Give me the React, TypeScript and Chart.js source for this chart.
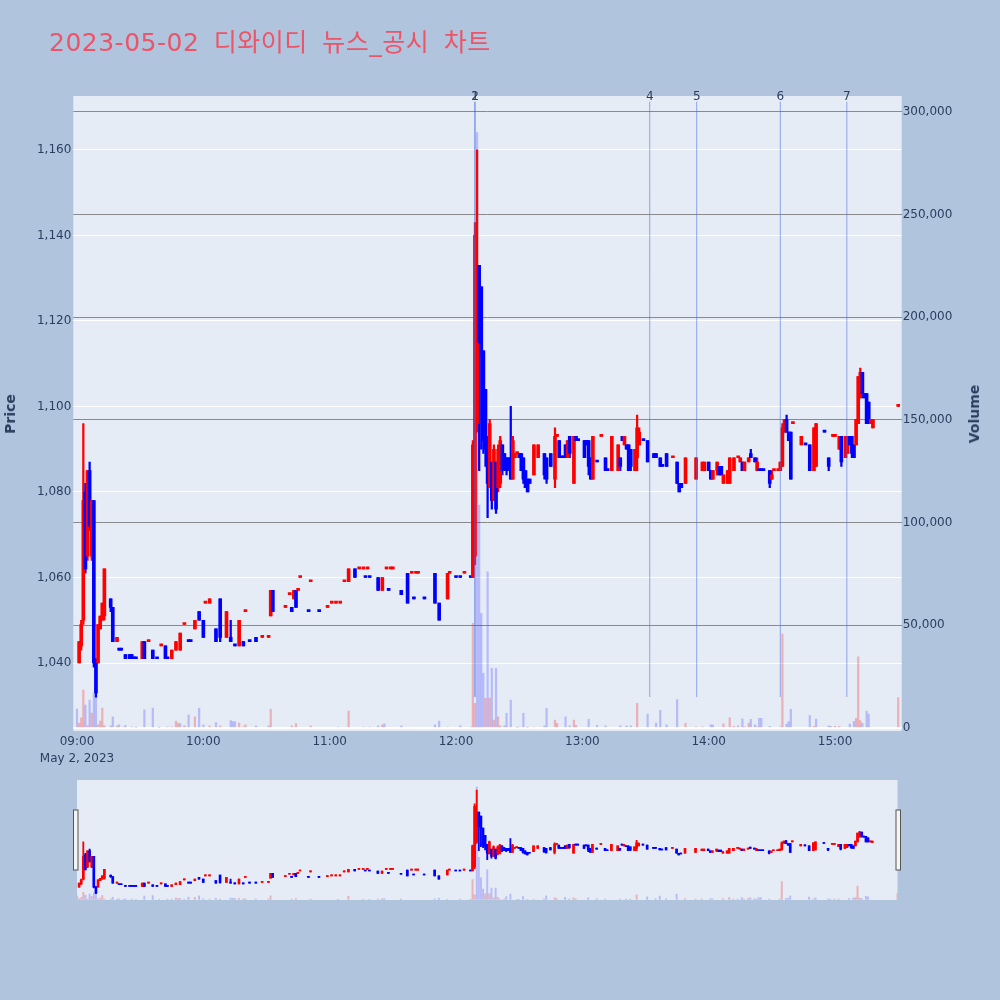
import React, { useEffect, useRef } from 'react';
import { Chart, registerables } from 'chart.js';

Chart.register(...registerables);

// ---------- candles (minute offset from 09:00, open, high, low, close) ----------
const candleMin = [
  1, 2, 3, 4, 5, 6, 7, 8, 9, 10, 11, 12, 13,
  16, 17, 19, 20, 21, 23, 25, 26, 27, 28, 31, 32, 34, 36, 38, 40, 42, 43, 45, 47, 49, 51, 53, 54, 56,
  58, 60, 61, 63, 66, 68, 71, 73, 75, 77, 79, 80, 82, 85, 88, 91, 92, 93, 99, 101, 102, 103, 104, 105, 106,
  110, 111, 115, 119, 121, 123, 125, 127, 129, 132, 134, 136, 137, 138, 139, 143, 145, 147, 148, 149, 150, 154, 157, 159, 160, 161, 162, 165, 170, 172, 176, 177, 180, 182, 184, 187,
  188, 189, 190, 191, 192, 193, 194, 195, 196, 197, 198, 199, 200, 201, 202, 203, 204, 205, 206, 207, 208, 209, 210, 211, 212, 213, 214, 215, 217, 219,
  222, 223, 225, 227, 228, 229, 230, 231, 232, 233, 234, 236, 237, 238, 241, 242, 243, 244, 245, 247, 249, 251, 252, 254, 257, 258, 259, 260, 261, 262, 263, 265, 266, 267,
  269, 271, 274, 275, 277, 278, 280, 283, 285, 286, 287, 289, 294, 297, 298, 300, 301, 302, 304, 305, 306, 307, 309, 310, 312, 314, 315, 316, 317, 319, 320, 322, 323, 324, 325, 326, 329, 330, 331, 333, 334, 335, 336, 337, 338, 339, 340,
  344, 346, 348, 350, 351, 355, 357, 359, 360, 362, 363, 365, 366, 367, 368, 369, 370, 371, 372, 373, 374, 375, 376, 377, 378, 390,
];
const candleOpen = [
  1040, 1044, 1050, 1080, 1065, 1085, 1065, 1078, 1041, 1040, 1048, 1050, 1051,
  1055, 1053, 1045, 1043, 1043, 1042, 1042, 1042, 1041, 1041, 1041, 1045, 1045, 1043, 1041, 1044, 1044, 1041, 1041, 1043, 1043, 1049, 1045, 1045, 1048,
  1052, 1050, 1054, 1054, 1048, 1055, 1046, 1046, 1044, 1044, 1045, 1052, 1045, 1046, 1046, 1046, 1051, 1057, 1053, 1056, 1053, 1055, 1057, 1057, 1060,
  1052, 1059, 1052, 1053, 1054, 1054, 1054, 1059, 1059, 1062, 1062, 1062, 1060, 1062, 1060, 1060, 1057, 1062, 1057, 1062, 1062, 1057, 1061, 1061, 1055, 1061, 1061, 1055, 1061, 1054, 1055, 1061, 1060, 1060, 1061, 1060,
  1060, 1065, 1096, 1133, 1128, 1113, 1104, 1093, 1081, 1087, 1078, 1087, 1081, 1082, 1091, 1089, 1088, 1088, 1088, 1083, 1088, 1089, 1089, 1089, 1088, 1085, 1083, 1083, 1084, 1088,
  1089, 1088, 1089, 1083, 1093, 1092, 1088, 1088, 1091, 1088, 1093, 1082, 1093, 1092, 1092, 1092, 1092, 1088, 1083, 1087, 1093, 1088, 1085, 1085, 1085, 1088, 1093, 1091, 1091, 1091, 1090, 1085, 1088, 1091,
  1092, 1092, 1089, 1089, 1088, 1086, 1089, 1088, 1087, 1082, 1082, 1082, 1083, 1085, 1085, 1087, 1085, 1083, 1085, 1086, 1086, 1082, 1082, 1082, 1085, 1088, 1087, 1087, 1085, 1087, 1089, 1088, 1085, 1085, 1085, 1085, 1085, 1083, 1085, 1085, 1085, 1086, 1094, 1097, 1094, 1094, 1096,
  1091, 1091, 1091, 1085, 1086, 1094, 1088, 1093, 1093, 1090, 1093, 1088, 1089, 1093, 1093, 1091, 1091, 1096, 1102, 1108, 1103, 1103, 1101, 1096, 1095, 1100,
];
const candleHigh = [
  1045, 1050, 1096, 1082, 1085, 1087, 1078, 1078, 1041, 1049, 1051, 1054, 1062,
  1055, 1053, 1046, 1043, 1043, 1042, 1042, 1042, 1041, 1041, 1045, 1045, 1045, 1043, 1041, 1044, 1044, 1041, 1043, 1045, 1047, 1049, 1045, 1045, 1050,
  1052, 1050, 1054, 1055, 1048, 1055, 1052, 1050, 1044, 1050, 1045, 1052, 1045, 1046, 1046, 1046, 1057, 1057, 1053, 1056, 1053, 1057, 1057, 1057, 1060,
  1052, 1059, 1052, 1053, 1054, 1054, 1054, 1059, 1062, 1062, 1062, 1062, 1060, 1062, 1060, 1060, 1060, 1062, 1057, 1062, 1062, 1057, 1061, 1061, 1055, 1061, 1061, 1055, 1061, 1054, 1061, 1061, 1060, 1060, 1061, 1060,
  1092, 1143, 1160, 1133, 1128, 1113, 1104, 1093, 1097, 1087, 1091, 1087, 1091, 1093, 1091, 1089, 1088, 1088, 1100, 1093, 1089, 1089, 1089, 1089, 1088, 1085, 1083, 1083, 1091, 1091,
  1089, 1088, 1089, 1095, 1093, 1092, 1088, 1088, 1091, 1092, 1093, 1093, 1093, 1092, 1092, 1092, 1092, 1088, 1093, 1087, 1093, 1088, 1085, 1093, 1091, 1088, 1093, 1093, 1091, 1091, 1090, 1090, 1098, 1095,
  1092, 1092, 1089, 1089, 1088, 1086, 1089, 1088, 1087, 1082, 1082, 1088, 1088, 1087, 1087, 1087, 1085, 1085, 1087, 1086, 1086, 1084, 1085, 1088, 1088, 1088, 1088, 1087, 1087, 1088, 1090, 1088, 1088, 1085, 1085, 1085, 1085, 1085, 1085, 1085, 1087, 1096, 1097, 1098, 1094, 1094, 1096,
  1093, 1091, 1091, 1095, 1096, 1094, 1088, 1093, 1093, 1093, 1093, 1093, 1093, 1093, 1093, 1091, 1097, 1107, 1109, 1108, 1103, 1103, 1101, 1097, 1097, 1100,
];
const candleLow = [
  1040, 1043, 1049, 1061, 1064, 1071, 1064, 1039, 1032, 1040, 1048, 1050, 1050,
  1052, 1045, 1045, 1043, 1043, 1041, 1041, 1041, 1041, 1041, 1041, 1041, 1045, 1041, 1041, 1044, 1041, 1041, 1041, 1043, 1043, 1049, 1045, 1045, 1048,
  1050, 1046, 1054, 1054, 1045, 1045, 1046, 1045, 1044, 1044, 1044, 1052, 1045, 1045, 1046, 1046, 1051, 1052, 1053, 1056, 1052, 1055, 1053, 1057, 1060,
  1052, 1059, 1052, 1053, 1054, 1054, 1054, 1059, 1059, 1060, 1062, 1062, 1060, 1062, 1060, 1057, 1057, 1062, 1057, 1062, 1062, 1056, 1054, 1061, 1055, 1061, 1061, 1055, 1054, 1050, 1055, 1061, 1060, 1060, 1061, 1060,
  1060, 1063, 1094, 1085, 1090, 1089, 1086, 1074, 1081, 1076, 1078, 1075, 1080, 1081, 1084, 1085, 1084, 1085, 1083, 1083, 1088, 1089, 1088, 1085, 1082, 1081, 1080, 1082, 1084, 1088,
  1083, 1082, 1086, 1081, 1093, 1088, 1088, 1088, 1088, 1088, 1088, 1082, 1092, 1092, 1088, 1091, 1084, 1083, 1083, 1087, 1093, 1085, 1085, 1085, 1085, 1085, 1092, 1091, 1090, 1085, 1085, 1085, 1085, 1091,
  1092, 1087, 1088, 1088, 1086, 1086, 1086, 1088, 1082, 1080, 1081, 1082, 1083, 1085, 1085, 1085, 1083, 1083, 1084, 1084, 1084, 1082, 1082, 1082, 1085, 1088, 1087, 1085, 1085, 1087, 1088, 1087, 1085, 1085, 1085, 1085, 1081, 1083, 1085, 1085, 1085, 1086, 1094, 1094, 1092, 1083, 1096,
  1091, 1091, 1085, 1085, 1086, 1094, 1085, 1093, 1093, 1090, 1086, 1088, 1089, 1091, 1088, 1088, 1091, 1096, 1102, 1102, 1102, 1096, 1096, 1096, 1095, 1100,
];
const candleClose = [
  1045, 1049, 1078, 1062, 1085, 1072, 1078, 1040, 1033, 1049, 1051, 1054, 1062,
  1053, 1045, 1046, 1043, 1043, 1041, 1041, 1041, 1041, 1041, 1045, 1041, 1045, 1041, 1041, 1044, 1041, 1041, 1043, 1045, 1047, 1049, 1045, 1045, 1050,
  1050, 1046, 1054, 1055, 1045, 1046, 1052, 1045, 1044, 1050, 1044, 1052, 1045, 1045, 1046, 1046, 1057, 1052, 1053, 1056, 1052, 1057, 1053, 1057, 1060,
  1052, 1059, 1052, 1053, 1054, 1054, 1054, 1059, 1062, 1060, 1062, 1062, 1060, 1062, 1060, 1057, 1060, 1062, 1057, 1062, 1062, 1056, 1054, 1061, 1055, 1061, 1061, 1055, 1054, 1050, 1061, 1061, 1060, 1060, 1061, 1060,
  1091, 1140, 1130, 1115, 1112, 1092, 1090, 1082, 1096, 1078, 1090, 1076, 1090, 1092, 1085, 1086, 1085, 1085, 1083, 1092, 1089, 1089, 1088, 1085, 1083, 1081, 1080, 1082, 1091, 1091,
  1084, 1083, 1086, 1093, 1093, 1088, 1088, 1088, 1088, 1092, 1089, 1093, 1092, 1092, 1088, 1091, 1086, 1083, 1093, 1087, 1093, 1085, 1085, 1093, 1091, 1086, 1092, 1093, 1090, 1085, 1086, 1090, 1095, 1094,
  1092, 1087, 1088, 1088, 1086, 1086, 1086, 1088, 1082, 1080, 1081, 1088, 1088, 1087, 1087, 1085, 1083, 1085, 1087, 1084, 1084, 1084, 1085, 1088, 1088, 1088, 1088, 1085, 1087, 1088, 1088, 1087, 1087, 1085, 1085, 1085, 1082, 1084, 1085, 1085, 1087, 1095, 1097, 1094, 1092, 1083, 1096,
  1093, 1091, 1085, 1095, 1096, 1094, 1086, 1093, 1093, 1093, 1087, 1093, 1093, 1091, 1089, 1088, 1097, 1107, 1108, 1103, 1102, 1096, 1096, 1097, 1097, 1100,
];

// ---------- volume (minute, amount, 1 = rising colour) ----------
const volMin = [
  0, 1, 2, 3, 4, 5, 6, 7, 8, 9,
  10, 11, 12, 13, 16, 17, 19, 20, 22, 23,
  26, 28, 32, 36, 39, 43, 45, 47, 48, 49,
  51, 53, 56, 58, 60, 63, 66, 68, 73, 74,
  75, 77, 79, 80, 85, 91, 92, 102, 104, 111,
  124, 129, 136, 139, 143, 145, 146, 154, 170, 172,
  176, 182, 187, 188, 189, 190, 191, 192, 193, 194,
  195, 196, 197, 198, 199, 200, 201, 203, 204, 206,
  209, 210, 212, 214, 217, 222, 223, 227, 228, 232,
  234, 236, 237, 243, 247, 251, 258, 261, 263, 266,
  271, 275, 277, 280, 285, 289, 294, 297, 301, 302,
  307, 310, 312, 314, 316, 317, 319, 320, 322, 323,
  324, 325, 329, 334, 335, 337, 338, 339, 348, 350,
  351, 357, 358, 360, 362, 367, 369, 370, 371, 372,
  373, 375, 376, 390,
];
const volAmt = [
  9200, 2400, 4900, 18500, 11200, 1000, 13600, 7300, 17000, 15100,
  1500, 3400, 9700, 1200, 1000, 5400, 1000, 1500, 500, 1300,
  600, 300, 8800, 9700, 300, 600, 600, 3400, 2400, 2200,
  1200, 6300, 5400, 9600, 1500, 1000, 2600, 1000, 3600, 3100,
  3100, 2400, 600, 1500, 1000, 1000, 9100, 1000, 2100, 1000,
  500, 8300, 500, 500, 1000, 1500, 2000, 1000, 1500, 3400,
  500, 1000, 500, 51000, 12000, 290000, 108600, 55800, 26600, 14400,
  76100, 14600, 29000, 3900, 29000, 5500, 1100, 1100, 7100, 13600,
  300, 500, 7100, 300, 500, 1100, 9600, 3900, 2300, 5500,
  1100, 3900, 1300, 4200, 1300, 1000, 1100, 1100, 1100, 12000,
  6800, 2400, 8600, 1500, 13800, 2400, 600, 600, 1500, 1500,
  2000, 5000, 800, 1000, 4500, 600, 2400, 4200, 1500, 600,
  4700, 4700, 800, 600, 45800, 1900, 3100, 9100, 6000, 800,
  4400, 1000, 800, 800, 800, 1900, 3200, 4700, 34700, 3600,
  2300, 8300, 6800, 14800,
];
const volUp = [
  0, 1, 1, 1, 0, 1, 0, 1, 0, 0,
  1, 1, 1, 1, 0, 0, 1, 0, 1, 0,
  0, 0, 0, 0, 0, 0, 1, 1, 1, 0,
  1, 0, 1, 0, 0, 1, 0, 1, 0, 0,
  0, 1, 1, 1, 0, 0, 1, 1, 1, 1,
  0, 1, 0, 0, 0, 1, 0, 0, 0, 0,
  1, 0, 0, 1, 1, 0, 0, 0, 0, 1,
  0, 1, 0, 1, 0, 1, 1, 0, 0, 0,
  0, 0, 0, 1, 1, 0, 0, 1, 1, 0,
  0, 1, 1, 0, 0, 0, 0, 0, 0, 1,
  0, 0, 0, 0, 0, 1, 1, 1, 0, 0,
  1, 1, 1, 0, 0, 1, 1, 0, 0, 1,
  0, 0, 0, 1, 1, 0, 0, 0, 0, 1,
  0, 0, 0, 1, 1, 0, 0, 1, 1, 1,
  0, 0, 0, 1,
];

// ---------- news / disclosure markers ----------
const markerMin = [189, 189, 272, 294.3, 334, 365.6];
const markerLabel = ['1', '2', '4', '5', '6', '7'];
const markerSpan = [15100, 305000];

// ---------- axes ----------
const timeTicks = [0, 60, 120, 180, 240, 300, 360];
const timeLabels = ['09:00', '10:00', '11:00', '12:00', '13:00', '14:00', '15:00'];
const priceTicks = [1040, 1060, 1080, 1100, 1120, 1140, 1160];
const volumeTicks = [0, 50000, 100000, 150000, 200000, 250000, 300000];
const timeRange = [-1.76, 391.66];
const sliderTimeRange = [0, 390];
const priceRange = [1024.1, 1172.6];
const volumeRange = [-1461, 307792];

const PAGE_BG = '#b0c4de';
const PLOT_BG = '#e5ecf6';
const TEXT = '#2a3f5f';
const FONT = "'DejaVu Sans', Verdana, sans-serif";
const RED = '#ff0000';
const BLUE = '#0000ff';

function candleRising(): boolean[] {
  const out: boolean[] = [];
  let prevClose: number | null = null;
  let prevUp = true;
  for (let i = 0; i < candleMin.length; i++) {
    const o = candleOpen[i];
    const c = candleClose[i];
    let up: boolean;
    if (c > o) up = true;
    else if (c < o) up = false;
    else if (prevClose === null) up = true;
    else if (c > prevClose) up = true;
    else if (c < prevClose) up = false;
    else up = prevUp;
    out.push(up);
    prevClose = c;
    prevUp = up;
  }
  return out;
}

function buildDatasets(main: boolean): any[] {
  const rising = candleRising();
  const colors = rising.map((u) => (u ? RED : BLUE));
  const ds: any[] = [
    {
      type: 'bar',
      label: 'Volume',
      yAxisID: 'y1',
      data: volMin.map((m, i) => ({ x: m, y: volAmt[i] })),
      backgroundColor: volUp.map((u) => (u ? 'rgba(255,0,0,0.25)' : 'rgba(0,0,255,0.2)')),
      barThickness: main ? 1.6 : 1.3,
      grouped: false,
      borderWidth: 0,
      order: 3,
    },
    {
      type: 'bar',
      label: 'Range',
      yAxisID: 'y',
      data: candleMin.map((m, i) => ({ x: m, y: [candleLow[i], candleHigh[i]] })),
      backgroundColor: colors,
      barThickness: main ? 1.6 : 1.2,
      minBarLength: 1,
      grouped: false,
      borderWidth: 0,
      order: 1,
    },
    {
      type: 'bar',
      label: 'Body',
      yAxisID: 'y',
      data: candleMin.map((m, i) => ({ x: m, y: [candleOpen[i], candleClose[i]] })),
      backgroundColor: colors,
      barThickness: main ? 3 : 2,
      minBarLength: main ? 2 : 1,
      grouped: false,
      borderWidth: 0,
      order: 0,
    },
  ];
  if (main) {
    markerMin.forEach((m, i) => {
      ds.push({
        type: 'line',
        label: 'news ' + markerLabel[i],
        yAxisID: 'y1',
        data: [
          { x: m, y: markerSpan[0] },
          { x: m, y: markerSpan[1] },
        ],
        borderColor: 'rgba(65,105,225,0.55)',
        borderWidth: 1,
        pointRadius: 0,
        fill: false,
        order: -1,
      });
    });
  }
  return ds;
}

const plotBgPlugin = {
  id: 'plotBg',
  beforeDraw(chart: any) {
    const { ctx, chartArea: a } = chart;
    ctx.save();
    ctx.fillStyle = PLOT_BG;
    ctx.fillRect(a.left, a.top, a.right - a.left, a.bottom - a.top);
    ctx.restore();
  },
};

const markerLabelPlugin = {
  id: 'markerLabels',
  afterDraw(chart: any) {
    const { ctx, chartArea: a } = chart;
    const xs = chart.scales.x;
    ctx.save();
    ctx.font = `12px ${FONT}`;
    ctx.fillStyle = TEXT;
    ctx.textAlign = 'center';
    ctx.textBaseline = 'middle';
    markerMin.forEach((m, i) => {
      ctx.fillText(markerLabel[i], xs.getPixelForValue(m), a.top + 0.5);
    });
    ctx.restore();
  },
};

const handlePlugin = {
  id: 'sliderHandles',
  afterDraw(chart: any) {
    const { ctx, chartArea: a } = chart;
    ctx.save();
    ctx.fillStyle = '#f4f4f4';
    ctx.strokeStyle = '#555';
    ctx.lineWidth = 1;
    const h = 60;
    const top = a.top + 30;
    ctx.fillRect(a.left - 3.5, top, 4.5, h);
    ctx.strokeRect(a.left - 3.5, top, 4.5, h);
    ctx.fillRect(a.right - 1.5, top, 4.5, h);
    ctx.strokeRect(a.right - 1.5, top, 4.5, h);
    ctx.restore();
  },
};

const tickFont = { family: FONT, size: 12 };

export default function App() {
  const mainRef = useRef<HTMLCanvasElement>(null);
  const sliderRef = useRef<HTMLCanvasElement>(null);

  useEffect(() => {
    document.body.style.margin = '0';
    document.body.style.background = PAGE_BG;

    const main = new Chart(mainRef.current as HTMLCanvasElement, {
      type: 'bar',
      data: { datasets: buildDatasets(true) },
      options: {
        animation: false,
        responsive: false,
        maintainAspectRatio: false,
        events: [],
        layout: { padding: { top: 96, left: 0, right: 0, bottom: 0 } },
        plugins: { legend: { display: false }, tooltip: { enabled: false } },
        scales: {
          x: {
            type: 'linear',
            min: timeRange[0],
            max: timeRange[1],
            offset: false,
            grid: { display: false, drawTicks: false, offset: false },
            border: { display: false },
            ticks: {
              font: tickFont,
              color: TEXT,
              padding: 4,
              maxRotation: 0,
              autoSkip: false,
              callback: (_v: any, i: number) => timeLabels[i],
            },
            afterBuildTicks: (s: any) => {
              s.ticks = timeTicks.map((v) => ({ value: v }));
            },
            afterFit: (s: any) => {
              s.height = 49;
            },
          },
          y: {
            type: 'linear',
            position: 'left',
            min: priceRange[0],
            max: priceRange[1],
            beginAtZero: false,
            grid: { color: '#ffffff', lineWidth: 1, drawTicks: false },
            border: { display: false },
            ticks: {
              font: tickFont,
              color: TEXT,
              padding: 2,
              callback: (v: any) => Number(v).toLocaleString('en-US'),
            },
            afterBuildTicks: (s: any) => {
              s.ticks = priceTicks.map((v) => ({ value: v }));
            },
            afterFit: (s: any) => {
              s.width = 73.3;
            },
          },
          y1: {
            type: 'linear',
            position: 'right',
            min: volumeRange[0],
            max: volumeRange[1],
            beginAtZero: false,
            grid: {
              color: (c: any) => (c.tick && c.tick.value === 0 ? '#ffffff' : '#8a8a8a'),
              lineWidth: (c: any) => (c.tick && c.tick.value === 0 ? 2 : 1),
              drawTicks: false,
            },
            border: { display: false },
            ticks: {
              font: tickFont,
              color: TEXT,
              padding: 1,
              callback: (v: any) => Number(v).toLocaleString('en-US'),
            },
            afterBuildTicks: (s: any) => {
              s.ticks = volumeTicks.map((v) => ({ value: v }));
            },
            afterFit: (s: any) => {
              s.width = 98.3;
            },
          },
        },
      } as any,
      plugins: [plotBgPlugin, markerLabelPlugin],
    });

    const slider = new Chart(sliderRef.current as HTMLCanvasElement, {
      type: 'bar',
      data: { datasets: buildDatasets(false) },
      options: {
        animation: false,
        responsive: false,
        maintainAspectRatio: false,
        events: [],
        layout: { padding: { top: 0, left: 77, right: 102.5, bottom: 0 } },
        plugins: { legend: { display: false }, tooltip: { enabled: false } },
        scales: {
          x: { type: 'linear', display: false, min: sliderTimeRange[0], max: sliderTimeRange[1], offset: false },
          y: { type: 'linear', display: false, min: priceRange[0], max: priceRange[1], beginAtZero: false },
          y1: { type: 'linear', display: false, min: volumeRange[0], max: volumeRange[1], beginAtZero: false },
        },
      } as any,
      plugins: [plotBgPlugin, handlePlugin],
    });

    return () => {
      main.destroy();
      slider.destroy();
    };
  }, []);

  return (
    <div
      style={{
        position: 'absolute',
        left: 0,
        top: 0,
        width: 1000,
        height: 1000,
        background: PAGE_BG,
        overflow: 'hidden',
      }}
    >
      <canvas
        ref={mainRef}
        width={1000}
        height={780}
        style={{ position: 'absolute', left: 0, top: 0, width: 1000, height: 780 }}
      />
      <canvas
        ref={sliderRef}
        width={1000}
        height={120}
        style={{ position: 'absolute', left: 0, top: 780, width: 1000, height: 120 }}
      />
      <div
        style={{
          position: 'absolute',
          left: 49,
          top: 29.5,
          fontFamily: "'DejaVu Sans', 'Noto Sans CJK KR', sans-serif",
          fontSize: 25,
          lineHeight: '25px',
          wordSpacing: '6px',
          letterSpacing: '0.5px',
          color: '#ec5468',
          whiteSpace: 'nowrap',
        }}
      >
        2023-05-02 디와이디 뉴스_공시 차트
      </div>
      <div
        style={{
          position: 'absolute',
          left: 10,
          top: 414,
          transform: 'translate(-50%, -50%) rotate(-90deg)',
          fontFamily: FONT,
          fontWeight: 'bold',
          fontSize: 14,
          lineHeight: '14px',
          color: TEXT,
          whiteSpace: 'nowrap',
        }}
      >
        Price
      </div>
      <div
        style={{
          position: 'absolute',
          left: 974,
          top: 414,
          transform: 'translate(-50%, -50%) rotate(-90deg)',
          fontFamily: FONT,
          fontWeight: 'bold',
          fontSize: 14,
          lineHeight: '14px',
          color: TEXT,
          whiteSpace: 'nowrap',
        }}
      >
        Volume
      </div>
      <div
        style={{
          position: 'absolute',
          left: 77,
          top: 751.8,
          transform: 'translateX(-50%)',
          fontFamily: FONT,
          fontSize: 12,
          lineHeight: '12px',
          color: TEXT,
          whiteSpace: 'nowrap',
        }}
      >
        May 2, 2023
      </div>
    </div>
  );
}
